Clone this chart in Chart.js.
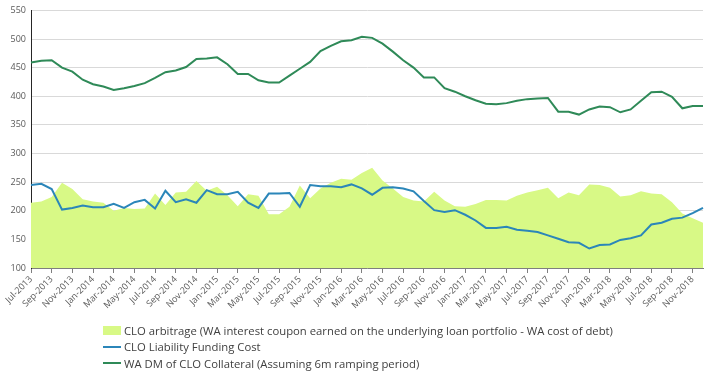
<!DOCTYPE html>
<html>
<head>
<meta charset="utf-8">
<script src="https://cdn.jsdelivr.net/npm/chart.js@4.4.0/dist/chart.umd.min.js"></script>
<style>
  html, body { margin: 0; padding: 0; background: #fff; }
  #wrap { position: relative; width: 720px; height: 378px; }
  #legend { position: absolute; left: 103px; top: 322px; font-family: 'Open Sans', sans-serif; font-size: 11.3px; color: #404040; }
  .item { display: flex; align-items: center; height: 16.5px; white-space: nowrap; }
  .mark { width: 18px; margin-right: 3px; }
</style>
</head>
<body>
<div id="wrap">
  <canvas id="cloChart" width="720" height="378"></canvas>
  <div id="legend"></div>
</div>
<script>
const months = [
  "Jul-2013","Aug-2013","Sep-2013","Oct-2013","Nov-2013","Dec-2013",
  "Jan-2014","Feb-2014","Mar-2014","Apr-2014","May-2014","Jun-2014","Jul-2014","Aug-2014","Sep-2014","Oct-2014","Nov-2014","Dec-2014",
  "Jan-2015","Feb-2015","Mar-2015","Apr-2015","May-2015","Jun-2015","Jul-2015","Aug-2015","Sep-2015","Oct-2015","Nov-2015","Dec-2015",
  "Jan-2016","Feb-2016","Mar-2016","Apr-2016","May-2016","Jun-2016","Jul-2016","Aug-2016","Sep-2016","Oct-2016","Nov-2016","Dec-2016",
  "Jan-2017","Feb-2017","Mar-2017","Apr-2017","May-2017","Jun-2017","Jul-2017","Aug-2017","Sep-2017","Oct-2017","Nov-2017","Dec-2017",
  "Jan-2018","Feb-2018","Mar-2018","Apr-2018","May-2018","Jun-2018","Jul-2018","Aug-2018","Sep-2018","Oct-2018","Nov-2018","Dec-2018"
];

// CLO arbitrage (area)
const arbitrage = [214,216,224,249,238,220,216,214,200,205,203,204,230,210,232,233,252,235,242,227,
                   208,229,226,194,194,207,244,222,239,249,256,254,266,275,253,239,224,218,216,233,
                   218,208,207,212,219,219,218,226,232,236,240,222,232,227,246,245,240,225,227,234,
                   230,229,215,195,187,179];

// CLO liability funding cost
const fundingCost = [245,247,238,202,205,209,206,206,212,205,215,219,204,235,215,220,214,236,229,229,
                     233,214,205,230,230,231,207,245,243,243,241,246,239,228,240,241,239,234,217,201,
                     198,201,193,183,170,170,172,167,165,163,157,151,145,144,134,140,141,149,152,157,
                     176,179,186,188,196,205];

// WA DM of CLO collateral
const collateralDM = [459,462,463,450,443,429,421,417,411,414,418,423,432,442,445,451,465,466,468,456,
                      439,439,428,424,424,436,448,460,479,488,496,498,504,502,492,478,463,450,433,433,
                      414,408,400,393,387,386,388,392,395,396,397,373,373,368,377,382,381,372,377,392,
                      407,408,399,379,383,383];

const yTicks = { min: 100, max: 550, step: 50 };

const seriesNames = [
  "CLO arbitrage (WA interest coupon earned on the underlying loan portfolio - WA cost of debt)",
  "CLO Liability Funding Cost",
  "WA DM of CLO Collateral (Assuming 6m ramping period)"
];
const areaColor = "#d8f986";
const blueColor = "#2b86b9";
const greenColor = "#2f8a58";

const ctx = document.getElementById("cloChart").getContext('2d');
const chart = new Chart(ctx, {
  type: 'line',
  data: {
    labels: months,
    datasets: [
      {
        label: seriesNames[0], data: arbitrage,
        backgroundColor: areaColor, borderWidth: 0, borderColor: areaColor,
        fill: 'start', pointRadius: 0, tension: 0, order: 3
      },
      {
        label: seriesNames[1], data: fundingCost,
        borderColor: blueColor, borderWidth: 2, fill: false, pointRadius: 0, tension: 0, order: 1
      },
      {
        label: seriesNames[2], data: collateralDM,
        borderColor: greenColor, borderWidth: 2, fill: false, pointRadius: 0, tension: 0, order: 2
      }
    ]
  },
  options: {
    responsive: false,
    animation: false,
    layout: { padding: { top: 10, right: 17, bottom: 60, left: 0 } },
    plugins: { legend: { display: false }, tooltip: { enabled: false } },
    scales: {
      x: {
        afterFit: s => { s.height = 50; },
        grid: {
          drawOnChartArea: false, tickLength: 5,
          color: c => (c.index % 2 === 0 ? '#7f7f7f' : 'rgba(0,0,0,0)')
        },
        border: { color: '#7f7f7f' },
        ticks: {
          autoSkip: false, minRotation: 45, maxRotation: 45, padding: 1,
          color: '#595959', font: { family: "'Open Sans', sans-serif", size: 9 },
          callback: (v, i) => (i % 2 === 0 ? months[i] : '')
        }
      },
      y: {
        min: yTicks.min, max: yTicks.max,
        afterFit: s => { s.width = 31; },
        grid: { color: '#d9d9d9', drawTicks: false },
        border: { color: '#262626' },
        ticks: {
          stepSize: yTicks.step, padding: 5,
          color: '#595959', font: { family: "'Open Sans', sans-serif", size: 9 }
        }
      }
    }
  }
});

// legend stacked in one column, like the original
const legend = document.getElementById("legend");
chart.data.datasets.forEach((ds, i) => {
  const item = document.createElement("div");
  item.className = "item";
  const mark = document.createElement("span");
  mark.className = "mark";
  if (i === 0) {
    mark.style.height = "9px";
    mark.style.background = ds.backgroundColor;
  } else {
    mark.style.height = "2px";
    mark.style.background = ds.borderColor;
  }
  const txt = document.createElement("span");
  txt.textContent = ds.label;
  item.appendChild(mark);
  item.appendChild(txt);
  legend.appendChild(item);
});
</script>
</body>
</html>
